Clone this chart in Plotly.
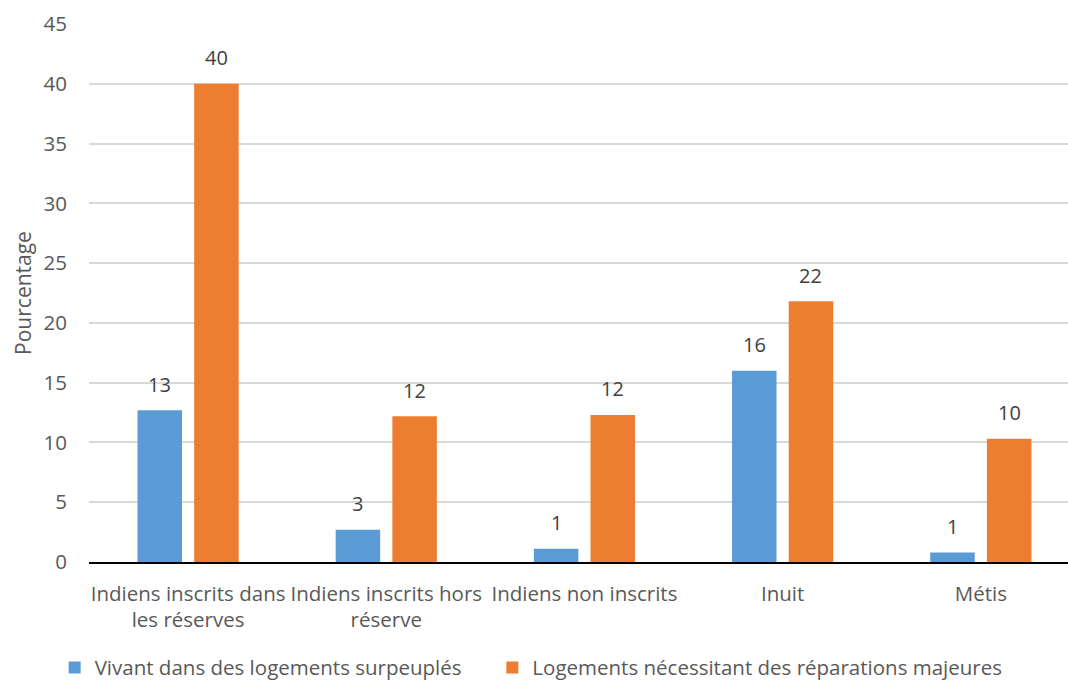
import plotly.graph_objects as go

categories = ["Indiens inscrits dans<br>les réserves", "Indiens inscrits hors<br>réserve",
              "Indiens non inscrits", "Inuit", "Métis"]
surpeuples = [12.7, 2.7, 1.1, 16.0, 0.8]
reparations = [40.0, 12.2, 12.3, 21.8, 10.3]
series_names = ["Vivant dans des logements surpeuplés", "Logements nécessitant des réparations majeures"]
colors = ["#5B9BD5", "#ED7D31"]
y_ticks = [0, 5, 10, 15, 20, 25, 30, 35, 40, 45]

FONT = "Open Sans"
TXT = "#595959"
BARGAP = 0.428
GROUPGAP = 0.215

fig = go.Figure()
for name, vals, col, lg in [(series_names[0], surpeuples, colors[0], "legend"),
                            (series_names[1], reparations, colors[1], "legend2")]:
    fig.add_trace(go.Bar(
        x=categories, y=vals, name=name, legend=lg,
        marker=dict(color=col, line=dict(width=0)),
    ))

# data labels placed above the bars
slot = (1 - BARGAP) / 2
for k, vals in enumerate([surpeuples, reparations]):
    off = (k - 0.5) * slot
    for i, v in enumerate(vals):
        fig.add_annotation(x=i + off, y=v, text=f"{v:.0f}", showarrow=False,
                           xref="x", yref="y", yanchor="middle", yshift=26,
                           font=dict(family=FONT, size=20, color="#404040"))

leg_common = dict(orientation="h", yref="container", yanchor="top", y=0.056, xanchor="left",
                  font=dict(family=FONT, size=20.5, color=TXT), bgcolor="rgba(0,0,0,0)")

fig.update_layout(
    width=1068, height=686,
    margin=dict(l=89, r=0, t=24, b=124),
    paper_bgcolor="white", plot_bgcolor="white",
    barmode="group", bargap=BARGAP, bargroupgap=GROUPGAP,
    font=dict(family=FONT, size=20.5, color=TXT),
    legend=dict(x=-0.0351, **leg_common),
    legend2=dict(x=0.412, **leg_common),
    yaxis=dict(range=[0, 45], tickvals=y_ticks, showgrid=True, gridcolor="#D9D9D9",
               gridwidth=1.5, zeroline=False, showline=False, ticks="",
               ticklabelstandoff=21, automargin=False,
               title=dict(text="Pourcentage", font=dict(size=21, color=TXT), standoff=6),
               tickfont=dict(size=20.5, color=TXT)),
    xaxis=dict(range=[-0.5, 4.44], showline=True, linecolor="#000000", linewidth=2, ticks="",
               ticklabelstandoff=12, automargin=False,
               tickfont=dict(size=20.5, color=TXT), showgrid=False),
    showlegend=True,
)

fig.write_html("out.html")
